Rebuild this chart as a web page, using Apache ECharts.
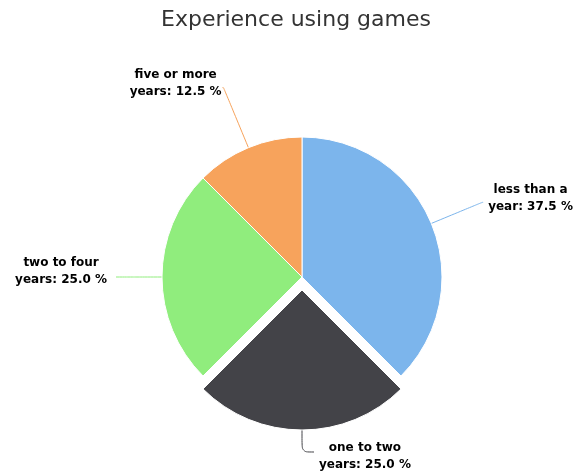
<!DOCTYPE html>
<html>
<head>
<meta charset="utf-8">
<script src="https://cdn.jsdelivr.net/npm/echarts@6/dist/echarts.min.js"></script>
<style>
html,body{margin:0;padding:0;background:#fff;}
#chart{width:576px;height:472px;}
</style>
</head>
<body>
<div id="chart"></div>
<script>
var titleText = 'Experience using games';
var categories = ['less than a year', 'one to two years', 'two to four years', 'five or more years'];
var labelLines = [['less than a', 'year'], ['one to two', 'years'], ['two to four', 'years'], ['five or more', 'years']];
var values = [37.5, 25.0, 25.0, 12.5];
var colors = ['#7cb5ec', '#434348', '#90ed7d', '#f7a35c'];
var selectedIndex = 1;
var lineLen = [55, 22, 30, 65];
var lineLen2 = [1, 12, 16, 1];
var labelDist = [5, 5, 9, 1];
var labelPad = [[0, 0, 8, 0], [8, 0, 0, 0], [0, 0, 12, 0], [0, 0, 8, 0]];

var total = values.reduce(function (a, b) { return a + b; }, 0);

var data = categories.map(function (c, i) {
  return {
    name: c,
    value: values[i],
    selected: i === selectedIndex,
    itemStyle: { color: colors[i] },
    label: { distanceToLabelLine: labelDist[i], padding: labelPad[i] },
    labelLine: { length: lineLen[i], length2: lineLen2[i] }
  };
});

var chart = echarts.init(document.getElementById('chart'), null, { renderer: 'canvas' });
chart.setOption({
  animation: false,
  backgroundColor: '#ffffff',
  title: {
    text: titleText,
    left: 161,
    top: 9,
    padding: 0,
    textStyle: {
      fontFamily: 'DejaVu Sans',
      fontSize: 22,
      fontWeight: 'normal',
      color: '#333333'
    }
  },
  series: [{
    type: 'pie',
    center: [302, 277],
    radius: 140,
    startAngle: 90,
    clockwise: true,
    selectedMode: 'single',
    selectedOffset: 13,
    avoidLabelOverlap: false,
    itemStyle: { borderColor: '#ffffff', borderWidth: 1 },
    emphasis: { disabled: true },
    label: {
      show: true,
      position: 'outside',
      alignTo: 'none',
      formatter: function (p) {
        var lines = labelLines[p.dataIndex];
        var pct = (p.value / total * 100).toFixed(1);
        return '{c|' + lines[0] + '}\n{c|' + lines[1] + ': ' + pct + ' %}';
      },
      rich: {
        c: {
          align: 'center',
          fontFamily: 'DejaVu Sans',
          fontSize: 12,
          fontWeight: 'bold',
          color: '#000000',
          lineHeight: 17
        }
      }
    },
    labelLine: {
      show: true,
      smooth: 0.3,
      lineStyle: { width: 1 }
    },
    data: data
  }]
});
</script>
</body>
</html>
